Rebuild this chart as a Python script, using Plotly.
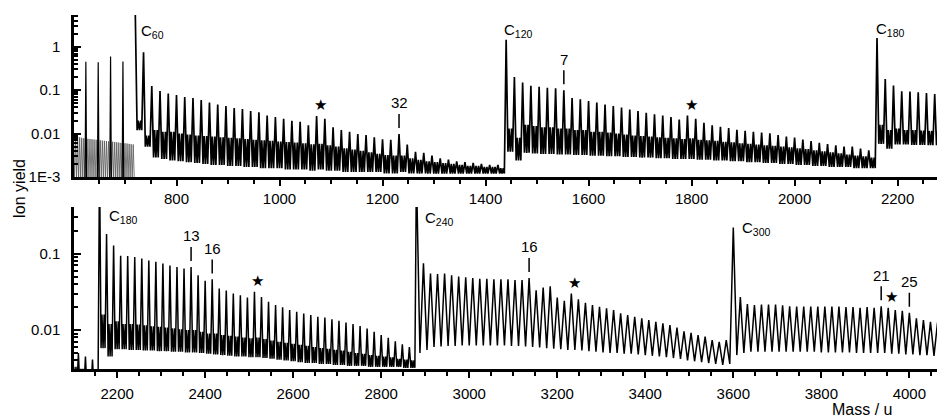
import math
import plotly.graph_objects as go

# ---- data (ion yield) ----
# fragment region below C60: fine comb every 4 u
frag_start = 600
frag_step = 4
frag_tops = [0.0092, 0.0088, 0.0085, 0.0082, 0.0080, 0.0078, 0.0077, 0.0076, 0.0075, 0.0074,
             0.0073, 0.0072, 0.0071, 0.0070, 0.0069, 0.0068, 0.0067, 0.0066, 0.0066, 0.0065,
             0.0064, 0.0063, 0.0062, 0.0061, 0.0061, 0.0060, 0.0059, 0.0058, 0.0057, 0.0056]
frag_floor = 0.0009
# C52..C58 fragments
frag_peak_mass = [624, 648, 672, 696]
frag_peak = [0.45, 0.44, 0.60, 0.46]

# clusters C60, C120, C180, C240, C300 with adduct peaks every 16 u
step = 16
cluster_start = [720, 1440, 2160, 2880, 3600]
cluster_name = ["C<sub>60</sub>", "C<sub>120</sub>", "C<sub>180</sub>", "C<sub>240</sub>", "C<sub>300</sub>"]

c60_peak = [6.0, 0.75, 0.124, 0.096, 0.084, 0.077, 0.070, 0.066, 0.059, 0.052,
            0.047, 0.043, 0.039, 0.037, 0.033, 0.031, 0.026, 0.024, 0.022, 0.0196,
            0.0187, 0.0156, 0.0255, 0.022, 0.014, 0.012, 0.011, 0.0098, 0.0092, 0.0082,
            0.0074, 0.0072, 0.0098, 0.0056, 0.0038, 0.0036, 0.0031, 0.0027, 0.0025, 0.0023,
            0.0022, 0.0021, 0.0020, 0.0019, 0.0019]
c60_mid = [0.020, 0.009, 0.012, 0.011, 0.011, 0.010, 0.0095, 0.0090, 0.0088, 0.0085,
           0.0082, 0.0080, 0.0078, 0.0075, 0.0072, 0.0070, 0.0068, 0.0066, 0.0064, 0.0062,
           0.0060, 0.0057, 0.0058, 0.0054, 0.0050, 0.0046, 0.0043, 0.0040, 0.0037, 0.0034,
           0.0032, 0.0031, 0.0031, 0.0027, 0.0025, 0.0023, 0.0022, 0.0021, 0.0020, 0.0019,
           0.0018, 0.0018, 0.0017, 0.0017, 0.0016]
c60_low = [0.012, 0.005, 0.0028, 0.0026, 0.0024, 0.0023, 0.0022, 0.0021, 0.0020, 0.0019,
           0.0019, 0.0018, 0.0018, 0.0017, 0.0017, 0.0016, 0.0016, 0.0016, 0.0015, 0.0015,
           0.0015, 0.0014, 0.0015, 0.0014, 0.0014, 0.0013, 0.0013, 0.0013, 0.0013, 0.0013,
           0.0012, 0.0012, 0.0013, 0.0012, 0.0012, 0.0012, 0.0012, 0.0012, 0.0012, 0.0012,
           0.0012, 0.0012, 0.0012, 0.0012, 0.0012]

c120_peak = [1.45, 0.20, 0.15, 0.126, 0.12, 0.113, 0.11, 0.10, 0.066, 0.062,
             0.056, 0.052, 0.047, 0.043, 0.040, 0.036, 0.033, 0.030, 0.028, 0.026,
             0.024, 0.021, 0.026, 0.022, 0.0177, 0.0156, 0.0143, 0.0135, 0.0123, 0.0116,
             0.0110, 0.0106, 0.0102, 0.0093, 0.0085, 0.0081, 0.0073, 0.0067, 0.0061, 0.0057,
             0.0054, 0.0050, 0.0050, 0.0045, 0.0041]
c120_mid = [0.013, 0.008, 0.016, 0.015, 0.014, 0.014, 0.013, 0.013, 0.012, 0.012,
            0.011, 0.011, 0.0105, 0.010, 0.0095, 0.009, 0.0088, 0.0085, 0.0082, 0.008,
            0.0078, 0.0075, 0.0078, 0.0072, 0.007, 0.0068, 0.0065, 0.0063, 0.006, 0.0058,
            0.0056, 0.0054, 0.0052, 0.005, 0.0048, 0.0046, 0.0044, 0.0041, 0.0039, 0.0037,
            0.0035, 0.0033, 0.0031, 0.003, 0.0028]
c120_low = [0.0038, 0.0024, 0.0036, 0.0035, 0.0034, 0.0034, 0.0033, 0.0033, 0.0032, 0.0032,
            0.0031, 0.0031, 0.0030, 0.0030, 0.0029, 0.0029, 0.0028, 0.0028, 0.0027, 0.0027,
            0.0026, 0.0026, 0.0026, 0.0025, 0.0025, 0.0024, 0.0024, 0.0023, 0.0023, 0.0022,
            0.0022, 0.0021, 0.0021, 0.0020, 0.0020, 0.0019, 0.0019, 0.0018, 0.0018, 0.0017,
            0.0017, 0.0017, 0.0016, 0.0016, 0.0016]

c180_peak = [1.6, 0.18, 0.128, 0.094, 0.093, 0.090, 0.086, 0.081, 0.078, 0.074,
             0.070, 0.067, 0.064, 0.067, 0.052, 0.044, 0.046, 0.035, 0.033, 0.030,
             0.0286, 0.0267, 0.0316, 0.027, 0.0234, 0.0212, 0.0198, 0.0183, 0.0173, 0.0165,
             0.0157, 0.0149, 0.0146, 0.0138, 0.0132, 0.0125, 0.0120, 0.0113, 0.0105, 0.0095,
             0.0086, 0.0079, 0.0071, 0.0065, 0.0060]
c180_mid = [0.016, 0.012, 0.013, 0.012, 0.012, 0.0118, 0.0115, 0.0112, 0.011, 0.0108,
            0.0105, 0.0102, 0.010, 0.010, 0.0095, 0.009, 0.009, 0.0086, 0.0084, 0.0082,
            0.008, 0.0078, 0.008, 0.0076, 0.0073, 0.007, 0.0068, 0.0066, 0.0064, 0.0062,
            0.006, 0.0058, 0.0057, 0.0055, 0.0054, 0.0052, 0.005, 0.0049, 0.0047, 0.0046,
            0.0045, 0.0044, 0.0042, 0.0041, 0.004]
c180_low = [0.0058, 0.0045, 0.0056, 0.0056, 0.0055, 0.0055, 0.0054, 0.0054, 0.0053, 0.0053,
            0.0052, 0.0052, 0.0051, 0.0051, 0.005, 0.0049, 0.0048, 0.0047, 0.0046, 0.0045,
            0.0045, 0.0044, 0.0044, 0.0043, 0.0042, 0.0041, 0.004, 0.0039, 0.0038, 0.0037,
            0.0037, 0.0036, 0.0036, 0.0035, 0.0035, 0.0034, 0.0034, 0.0034, 0.0033, 0.0033,
            0.0033, 0.0033, 0.0033, 0.0032, 0.0032]

c240_peak = [1.2, 0.075, 0.055, 0.054, 0.055, 0.052, 0.050, 0.049, 0.048, 0.047,
             0.047, 0.046, 0.046, 0.046, 0.045, 0.045, 0.048, 0.033, 0.036, 0.0375,
             0.0267, 0.0241, 0.030, 0.0252, 0.0227, 0.0212, 0.0202, 0.0192, 0.0183, 0.0165,
             0.0157, 0.0149, 0.0142, 0.0135, 0.0128, 0.0122, 0.0116, 0.0108, 0.0096, 0.0092,
             0.0086, 0.0082, 0.0074, 0.0070, 0.0074]
c240_low = [0.005, 0.0055, 0.0060, 0.0061, 0.0062, 0.0062, 0.0063, 0.0063, 0.0063, 0.0063,
            0.0063, 0.0063, 0.0063, 0.0062, 0.0062, 0.0061, 0.0060, 0.0059, 0.0058, 0.0057,
            0.0056, 0.0055, 0.0055, 0.0054, 0.0053, 0.0052, 0.0051, 0.0050, 0.0050, 0.0049,
            0.0049, 0.0048, 0.0047, 0.0046, 0.0045, 0.0044, 0.0043, 0.0042, 0.0040, 0.0039,
            0.0038, 0.0037, 0.0036, 0.0035, 0.0036]

c300_peak = [0.22, 0.027, 0.0218, 0.0212, 0.0215, 0.0215, 0.0215, 0.0210, 0.0205, 0.0203,
             0.0203, 0.0203, 0.0203, 0.0203, 0.0203, 0.0203, 0.0200, 0.0200, 0.0195, 0.0200,
             0.0195, 0.0205, 0.0195, 0.0183, 0.0178, 0.0168, 0.0142, 0.0135, 0.0128, 0.0125,
             0.0120]
c300_low = [0.0047, 0.005, 0.0052, 0.0052, 0.0052, 0.0052, 0.0052, 0.0052, 0.0052, 0.0052,
            0.0052, 0.0052, 0.0051, 0.0051, 0.0051, 0.0051, 0.0051, 0.005, 0.005, 0.005,
            0.005, 0.005, 0.0049, 0.0049, 0.0048, 0.0048, 0.0047, 0.0047, 0.0046, 0.0046,
            0.0046]

peaks = [c60_peak, c120_peak, c180_peak, c240_peak, c300_peak]
mids = [c60_mid, c120_mid, c180_mid, None, None]
lows = [c60_low, c120_low, c180_low, c240_low, c300_low]

# numbered adduct peaks and the C90/C150/... peaks marked with a star
mark_mass = [1232, 1552, 2368, 2416, 3136, 3936, 4000]
mark_text = ["32", "7", "13", "16", "16", "21", "25"]
star_mass = [1080, 1800, 2520, 3240, 3960]

# ---- build the traces ----
comb_x, comb_y = [], []
for k, h in enumerate(frag_tops):
    m = frag_start + k * frag_step
    comb_x += [m, m + frag_step / 2]
    comb_y += [h, frag_floor]

spike_x, spike_y = [], []
for m, h in zip(frag_peak_mass, frag_peak):
    spike_x += [m - 1.5, m, m + 1.5, None]
    spike_y += [frag_floor, h, frag_floor, None]

mass, yld = [], []
peak_at = {}
for m0, P, S, V in zip(cluster_start, peaks, mids, lows):
    for n in range(len(P)):
        m = m0 + n * step
        peak_at[m] = P[n]
        if S is None:
            mass += [m, m + 8]
            yld += [P[n], V[n]]
        else:
            mass += [m, m + 3.5, m + 5.5, m + 8, m + 10.5, m + 12.5]
            yld += [P[n], V[n], S[n], V[n], S[n], V[n]]


def nearest_peak(m):
    key = min(peak_at, key=lambda q: (abs(q - m), q))
    return peak_at[key]


FONT = "Liberation Sans, Arial, sans-serif"
fig = go.Figure()
for xa, ya, lw in [("x", "y", 1.7), ("x2", "y2", 1.5)]:
    fig.add_trace(go.Scatter(x=comb_x, y=comb_y, mode="lines", xaxis=xa, yaxis=ya,
                             line=dict(color="#555", width=0.8), hoverinfo="skip"))
    fig.add_trace(go.Scatter(x=spike_x, y=spike_y, mode="lines", xaxis=xa, yaxis=ya,
                             line=dict(color="black", width=1.2), hoverinfo="skip"))
    fig.add_trace(go.Scatter(x=mass, y=yld, mode="lines", xaxis=xa, yaxis=ya,
                             line=dict(color="black", width=lw), hoverinfo="skip"))

axis_common = dict(showline=True, linecolor="black", linewidth=2.5, showgrid=False, zeroline=False,
                   automargin=False, tickcolor="black",
                   tickfont=dict(family=FONT, size=15, color="black"))
minor_log = [k * 10.0 ** e for e in range(-3, 1) for k in range(2, 10)]

# the page body keeps its default 8 px margin, so the figure is 8 px smaller
fig.update_layout(
    width=937, height=411,
    margin=dict(l=66, r=0, t=7, b=50),
    paper_bgcolor="white", plot_bgcolor="white",
    showlegend=False,
    xaxis=dict(axis_common, domain=[0, 1], anchor="y", range=[601, 2292],
               tickvals=list(range(800, 2201, 200)), ticks="outside", ticklen=6, tickwidth=2,
               minor=dict(dtick=50, ticks="outside", ticklen=4, tickwidth=2, tickcolor="black"),
               ticklabelstandoff=0),
    yaxis=dict(axis_common, domain=[0.5424, 1], anchor="x", type="log", range=[-3, 0.732],
               tickvals=[0.001, 0.01, 0.1, 1], ticktext=["1E-3", "0.01", "0.1", "1"],
               ticks="inside", ticklen=7, tickwidth=2,
               minor=dict(tickvals=minor_log, ticks="inside", ticklen=4, tickwidth=1.5, tickcolor="black"),
               ticklabelstandoff=8),
    xaxis2=dict(axis_common, domain=[0, 1], anchor="y2", range=[2102, 4081],
                tickvals=list(range(2200, 4001, 200)), ticks="outside", ticklen=6, tickwidth=2,
                minor=dict(dtick=50, ticks="outside", ticklen=4, tickwidth=2, tickcolor="black"),
                ticklabelstandoff=3),
    yaxis2=dict(axis_common, domain=[0, 0.4576], anchor="x2", type="log", range=[-2.51, -0.39],
                tickvals=[0.01, 0.1], ticktext=["0.01", "0.1"],
                ticks="inside", ticklen=7, tickwidth=2,
                minor=dict(tickvals=minor_log, ticks="inside", ticklen=4, tickwidth=1.5, tickcolor="black"),
                ticklabelstandoff=8),
)

ann = []
lab_font = dict(family=FONT, size=15, color="black")
# cluster labels: (name index, axes, x in mass, anchor in log10 yield, pixel lift)
for i, xa, ya, lx, ly, dy in [(0, "x", "y", 727, 0.62, 0), (1, "x", "y", 1432, 0.64, 0),
                              (2, "x", "y", 2154, 0.66, 0), (2, "x2", "y2", 2177, -0.45, 7),
                              (3, "x2", "y2", 2895, -0.45, 5), (4, "x2", "y2", 3616, -0.60, 6)]:
    ann.append(dict(x=lx, y=ly, xref=xa, yref=ya, text=cluster_name[i], showarrow=False,
                    xanchor="left", yanchor="top", yshift=dy, font=lab_font))

for m, t in zip(mark_mass, mark_text):
    xa, ya = ("x", "y") if m < 2100 else ("x2", "y2")
    ann.append(dict(x=m, y=math.log10(nearest_peak(m)), xref=xa, yref=ya, text=t,
                    showarrow=True, arrowhead=0, arrowwidth=1.5, arrowcolor="black",
                    ax=0, ay=-31, standoff=6, borderpad=2, font=lab_font))

for m in star_mass:
    xa, ya = ("x", "y") if m < 2100 else ("x2", "y2")
    ann.append(dict(x=m, y=math.log10(nearest_peak(m)), xref=xa, yref=ya, text="★",
                    showarrow=False, yshift=11, font=dict(family="DejaVu Sans", size=15, color="black")))

ann.append(dict(x=-0.063, y=0.51, xref="paper", yref="paper", text="Ion yield", textangle=-90,
                xanchor="center", yanchor="middle",
                showarrow=False, font=dict(family=FONT, size=16, color="black")))
ann.append(dict(x=0.905, y=-0.113, xref="paper", yref="paper", text="Mass / u",
                xanchor="center", yanchor="middle",
                showarrow=False, font=dict(family=FONT, size=16, color="black")))
fig.update_layout(annotations=ann)

fig.write_html("out.html")
